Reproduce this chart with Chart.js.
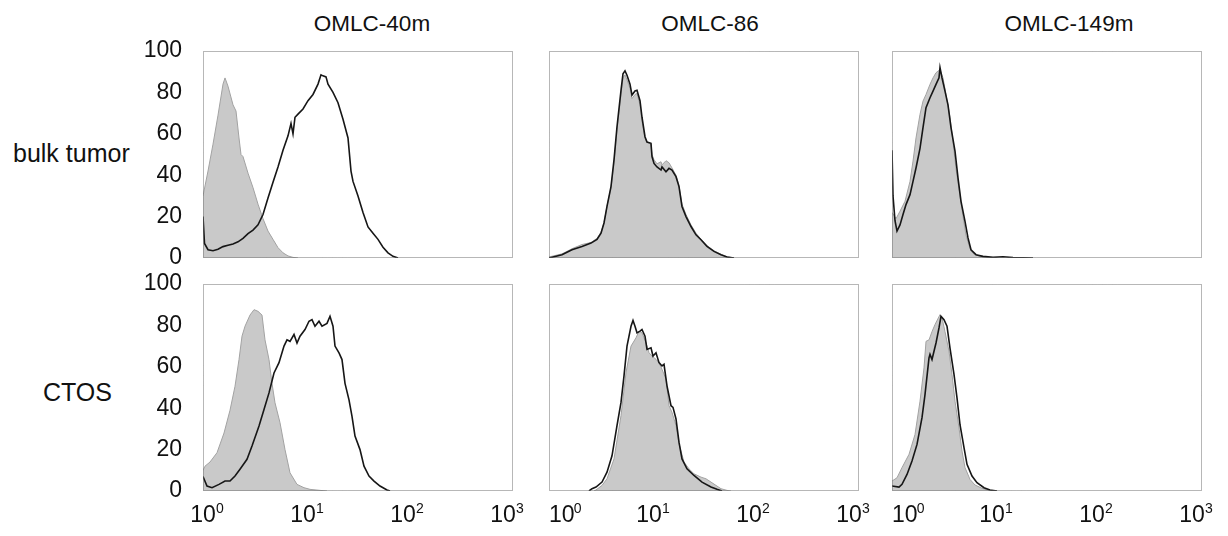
<!DOCTYPE html>
<html>
<head>
<meta charset="utf-8">
<title>OMLC histograms</title>
<script src="https://cdn.jsdelivr.net/npm/chart.js@4.4.1/dist/chart.umd.min.js"></script>
<style>
    body { margin: 0; width: 1228px; height: 536px; background: #fff; position: relative; overflow: hidden;
           font-family: "Liberation Sans", Arial, sans-serif; color: #111; }
    .panel { position: absolute; }
    .col-title { position: absolute; top: 13px; font-size: 22.5px; line-height: 1; white-space: nowrap; transform: translateX(-50%); }
    .row-label { position: absolute; font-size: 25px; line-height: 1; white-space: nowrap; }
</style>
</head>
<body>
<script>
// ---------------- DATA ----------------
// x = log10 fluorescence (decades), y = % of max
const cellLines = ['OMLC-40m', 'OMLC-86', 'OMLC-149m'];
const sources = ['bulk tumor', 'CTOS'];
const xTickValues = [0, 1, 2, 3];
const xTickBase = ['10', '10', '10', '10'];
const xTickExp = ['0', '1', '2', '3'];

// grey filled = control, black line = stained
const bulk40mCtrl = [[0,30],[0.05,42],[0.10,55],[0.15,69],[0.20,84],[0.22,87],[0.25,83],[0.30,74],[0.33,71],[0.36,58],[0.38,50],[0.40,49],[0.45,41],[0.50,34],[0.55,26],[0.60,19],[0.65,13],[0.70,9],[0.75,5],[0.80,2.5],[0.85,1],[0.90,0.3],[0.95,0]];
const bulk40mStain = [[0,20],[0.015,7],[0.05,4],[0.10,3.5],[0.15,4.2],[0.20,5.5],[0.25,6.2],[0.30,6.8],[0.35,7.8],[0.40,9.5],[0.45,11.8],[0.50,13.5],[0.55,16],[0.60,21],[0.65,29],[0.70,36.6],[0.75,44],[0.80,52],[0.85,59],[0.88,65],[0.90,60],[0.92,68],[0.95,69.5],[1.00,72],[1.05,76],[1.10,79],[1.15,84],[1.18,88.5],[1.20,88],[1.23,87.5],[1.25,84],[1.30,80],[1.35,75],[1.40,67],[1.45,58],[1.48,42],[1.50,37],[1.55,30],[1.60,22],[1.65,15],[1.70,12],[1.75,9],[1.80,5.2],[1.85,2.5],[1.90,0.8],[1.95,0]];

const bulk86Ctrl = [[0,0.5],[0.13,2],[0.23,4.5],[0.33,6.5],[0.42,7.5],[0.48,9.5],[0.52,12.5],[0.55,17],[0.58,25],[0.62,34],[0.65,46],[0.68,62],[0.72,79],[0.74,87],[0.76,88.5],[0.78,86],[0.81,82],[0.83,77],[0.86,79],[0.88,79.5],[0.91,74],[0.93,66],[0.96,58],[0.98,56],[1.02,55],[1.03,50],[1.05,47.5],[1.08,45.5],[1.12,46.5],[1.13,45],[1.17,47],[1.20,46],[1.23,43.5],[1.27,40],[1.30,35],[1.33,26],[1.37,21],[1.42,16],[1.47,12],[1.52,9],[1.58,6],[1.65,3.5],[1.72,1.8],[1.78,0.6],[1.85,0]];
const bulk86Stain = [[0,0],[0.13,1.6],[0.23,4],[0.33,5.6],[0.42,7.2],[0.48,9],[0.52,12],[0.55,16.9],[0.58,24.9],[0.62,34.5],[0.65,47.4],[0.68,63.4],[0.72,81],[0.74,89],[0.76,90.4],[0.78,88.3],[0.81,84],[0.83,78.7],[0.86,80.7],[0.88,81],[0.91,76],[0.93,68],[0.96,58.6],[0.98,56],[1.02,55.4],[1.03,49],[1.05,45.7],[1.08,44],[1.12,42.5],[1.13,44],[1.17,41.7],[1.20,43.3],[1.23,42.5],[1.27,39.3],[1.30,34.5],[1.33,24.9],[1.37,20],[1.42,15.2],[1.47,11.2],[1.52,8.8],[1.58,5.6],[1.65,3.2],[1.72,1.6],[1.78,0.5],[1.85,0]];

const bulk149mCtrl = [[0,22],[0.04,19],[0.08,22.6],[0.13,27.4],[0.18,37],[0.21,46.8],[0.24,58],[0.28,69.4],[0.31,75.8],[0.34,79],[0.38,83.9],[0.41,87],[0.44,89.5],[0.48,91],[0.51,87],[0.54,79],[0.58,68],[0.61,56],[0.64,43],[0.68,30],[0.71,20],[0.74,11],[0.78,4.5],[0.81,2.2],[0.88,0.8],[0.94,0.3],[1.01,0]];
const bulk149mStain = [[0,52],[0.01,30],[0.03,18],[0.05,13],[0.08,16],[0.11,21],[0.14,25.8],[0.18,30.6],[0.21,37],[0.24,43.5],[0.28,53],[0.31,63],[0.34,72.6],[0.38,77.4],[0.41,80.6],[0.44,83.9],[0.47,87],[0.48,92],[0.50,87],[0.53,80.6],[0.56,74],[0.59,63],[0.63,51.6],[0.66,38.7],[0.69,27.4],[0.73,17.7],[0.76,9.7],[0.79,4],[0.84,1.6],[0.91,0.8],[1.01,0.3],[1.11,0.6],[1.21,0.2],[1.41,0]];

const ctos40mCtrl = [[0,10],[0.02,12],[0.07,14],[0.14,18.5],[0.21,28],[0.27,39],[0.32,50.6],[0.36,63.5],[0.39,74.8],[0.42,79.6],[0.47,85],[0.51,87.6],[0.55,86.8],[0.59,85],[0.62,73],[0.66,63.5],[0.69,52],[0.72,42.6],[0.77,33],[0.82,20],[0.87,8.8],[0.94,3.2],[1.01,1.6],[1.07,0.8],[1.17,0.3],[1.24,0]];
const ctos40mStain = [[0,7],[0.04,2.4],[0.09,1.6],[0.16,3.2],[0.22,4.8],[0.27,4.8],[0.32,7.2],[0.37,10.5],[0.44,15.3],[0.49,21.7],[0.56,31.4],[0.61,39.4],[0.66,47.4],[0.71,57],[0.76,62],[0.81,70],[0.84,73],[0.87,72.3],[0.91,75.6],[0.94,71.5],[0.97,74.8],[1.02,78],[1.06,82],[1.09,82.8],[1.12,79.6],[1.16,82],[1.19,79.6],[1.24,81],[1.27,84.4],[1.30,79.6],[1.32,70],[1.36,66.7],[1.39,63.5],[1.42,52],[1.46,44],[1.49,36],[1.52,26.5],[1.57,20],[1.61,12],[1.66,7.2],[1.71,4.8],[1.77,2.4],[1.84,0.5],[1.87,0]];

const ctos86Ctrl = [[0.45,0],[0.47,0.5],[0.53,2.7],[0.58,5.9],[0.65,15.5],[0.72,36.4],[0.77,57.2],[0.82,70],[0.87,74],[0.90,77.2],[0.93,76.4],[0.97,71.6],[1.00,66.8],[1.03,65.2],[1.07,63.6],[1.10,62],[1.13,58.8],[1.17,54],[1.20,41.2],[1.23,38],[1.27,31.6],[1.30,22.8],[1.35,14],[1.40,10.7],[1.45,8.3],[1.52,6.7],[1.57,5.9],[1.62,4.3],[1.67,2.7],[1.72,1.1],[1.78,0.3],[1.82,0]];
const ctos86Stain = [[0.40,0],[0.43,1.1],[0.47,1.9],[0.53,4.3],[0.58,9.1],[0.63,17],[0.68,31.6],[0.72,42.8],[0.75,55.6],[0.78,70],[0.82,79.6],[0.84,82.4],[0.86,79.6],[0.88,76.4],[0.91,77.2],[0.93,78],[0.96,74.8],[0.98,68.4],[1.02,69.2],[1.04,65.2],[1.07,66.8],[1.10,62],[1.13,60.4],[1.15,61.2],[1.18,50.8],[1.22,41.2],[1.24,40.4],[1.27,34.8],[1.30,23.6],[1.33,15.5],[1.38,10.7],[1.45,7.5],[1.53,4.3],[1.62,1.9],[1.68,0.8],[1.73,0]];

const ctos149mCtrl = [[0,4.8],[0.05,6.4],[0.10,11.3],[0.17,17.7],[0.23,27.3],[0.28,43.4],[0.32,59.5],[0.34,72.3],[0.37,73],[0.40,77],[0.43,80.4],[0.48,85.2],[0.50,83.6],[0.53,77],[0.57,67.5],[0.60,56.3],[0.63,43.4],[0.67,30.5],[0.70,19.3],[0.73,11.3],[0.78,5.6],[0.83,2.9],[0.90,1.3],[0.97,0.3],[1.02,0]];
const ctos149mStain = [[0,2.4],[0.07,1.9],[0.10,3.2],[0.15,8],[0.20,14.5],[0.25,22.5],[0.30,35.4],[0.33,46.6],[0.37,64.3],[0.38,66],[0.40,63.5],[0.42,67.5],[0.44,71.5],[0.47,78.8],[0.49,84.4],[0.52,82.8],[0.55,79.6],[0.58,69],[0.62,56.3],[0.65,45],[0.68,32],[0.72,21],[0.75,12.9],[0.80,7.2],[0.85,4],[0.92,1.6],[0.98,0.5],[1.05,0]];

const panels = [
    [[bulk40mCtrl, bulk40mStain], [bulk86Ctrl, bulk86Stain], [bulk149mCtrl, bulk149mStain]],
    [[ctos40mCtrl, ctos40mStain], [ctos86Ctrl, ctos86Stain], [ctos149mCtrl, ctos149mStain]]
];

// ---------------- LAYOUT ----------------
const X_MAX = 3.1;
const PLOT_W = 310, PLOT_H = 207;
const colLeft = [203, 549, 892];
const rowTop = [51, 284];
const titleCenter = [372, 710, 1069];
const rowLabelPos = [[13, 141], [43, 380]];
const PAD_T = 16, PAD_R = 30, PAD_B = 46;
const padL = [80, 20, 20];
const FONT = '"Liberation Sans", Arial, sans-serif';

const frame = {
    id: 'frame',
    afterDatasetsDraw(chart) {
        const { ctx, chartArea: a } = chart;
        ctx.save();
        ctx.strokeStyle = '#6e6e6e';
        ctx.lineWidth = 1;
        ctx.setLineDash([1, 1]);
        ctx.strokeRect(a.left + 0.5, a.top + 0.5, a.right - a.left - 1, a.bottom - a.top - 1);
        ctx.restore();
    }
};

const toXY = pts => pts.map(([x, y]) => ({ x, y }));

// keep the plot box fixed: no extra room for overhanging tick labels
function fixSize(prop, size) {
    return s => {
        s[prop] = size;
        s.paddingLeft = s.paddingRight = s.paddingTop = s.paddingBottom = 0;
    };
}

function makePanel(row, col) {
    const [ctrl, stain] = panels[row][col];
    const w = padL[col] + PLOT_W + PAD_R;
    const h = PAD_T + PLOT_H + PAD_B;

    const wrap = document.createElement('div');
    wrap.className = 'panel';
    wrap.style.left = (colLeft[col] - padL[col]) + 'px';
    wrap.style.top = (rowTop[row] - PAD_T) + 'px';
    const canvas = document.createElement('canvas');
    canvas.width = w;
    canvas.height = h;
    wrap.appendChild(canvas);
    document.body.appendChild(wrap);

    // the 10^0 of the middle/right panels sits a little right of its tick
    const nudge = (i, spaces) => (col > 0 && i === 0 ? ' '.repeat(spaces) : '');
    const noGrid = { display: false, drawTicks: false };

    new Chart(canvas.getContext('2d'), {
        type: 'line',
        data: {
            datasets: [
                { data: toXY(stain), borderColor: '#161616', borderWidth: 1.6, fill: false, pointRadius: 0, tension: 0 },
                { data: toXY(ctrl), borderColor: '#a2a2a2', borderWidth: 1, backgroundColor: '#c9c9c9', fill: 'origin', pointRadius: 0, tension: 0 }
            ]
        },
        options: {
            responsive: false,
            animation: false,
            events: [],
            layout: { padding: { top: PAD_T, right: PAD_R, left: 0, bottom: 0 } },
            plugins: { legend: { display: false }, tooltip: { enabled: false } },
            scales: {
                x: {
                    type: 'linear', min: 0, max: X_MAX,
                    afterBuildTicks: s => { s.ticks = xTickValues.map(v => ({ value: v })); },
                    afterFit: fixSize('height', PAD_B),
                    grid: noGrid,
                    border: { display: false },
                    ticks: {
                        display: row === 1, padding: 11, maxRotation: 0, autoSkip: false,
                        font: { family: FONT, size: 23 }, color: '#111',
                        callback: (v, i) => nudge(i, 4) + xTickBase[i]
                    }
                },
                // exponents: a second x axis hung on the y = 0 line, labels shifted up-right of the "10"
                xExp: {
                    type: 'linear', axis: 'x', position: { y: 0 }, min: 0, max: X_MAX,
                    afterBuildTicks: s => { s.ticks = xTickValues.map(v => ({ value: v })); },
                    afterFit: fixSize('height', 0),
                    grid: noGrid,
                    border: { display: false },
                    ticks: {
                        display: row === 1, padding: 10, labelOffset: 17, maxRotation: 0, autoSkip: false,
                        font: { family: FONT, size: 14 }, color: '#111',
                        callback: (v, i) => nudge(i, 6) + xTickExp[i]
                    }
                },
                y: {
                    min: 0, max: 100,
                    afterFit: fixSize('width', padL[col]),
                    grid: noGrid,
                    border: { display: false },
                    ticks: { display: col === 0, stepSize: 20, padding: 21, font: { family: FONT, size: 23 }, color: '#111' }
                }
            }
        },
        plugins: [frame]
    });
}

// ---------------- INIT ----------------
document.addEventListener('DOMContentLoaded', () => {
    cellLines.forEach((name, c) => {
        const t = document.createElement('div');
        t.className = 'col-title';
        t.style.left = titleCenter[c] + 'px';
        t.textContent = name;
        document.body.appendChild(t);
    });
    sources.forEach((name, r) => {
        const l = document.createElement('div');
        l.className = 'row-label';
        l.style.left = rowLabelPos[r][0] + 'px';
        l.style.top = rowLabelPos[r][1] + 'px';
        l.textContent = name;
        document.body.appendChild(l);
    });
    for (let r = 0; r < 2; r++) {
        for (let c = 0; c < 3; c++) makePanel(r, c);
    }
});
</script>
</body>
</html>
